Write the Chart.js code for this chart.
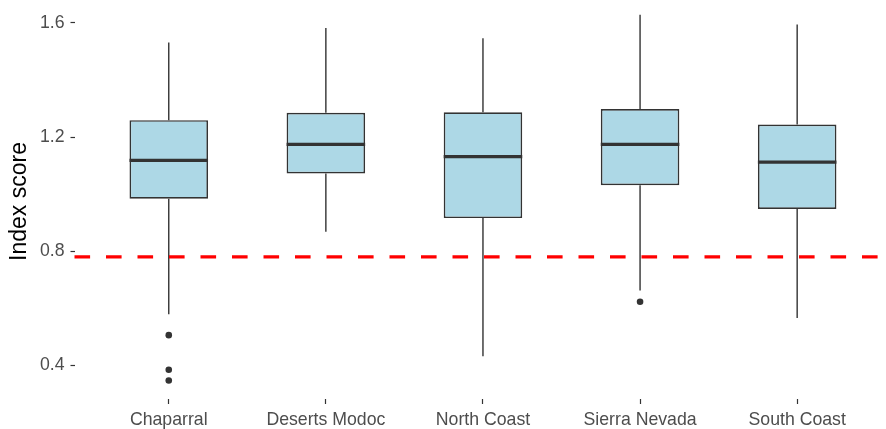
<!DOCTYPE html>
<html>
<head>
<meta charset="utf-8">
<script src="https://cdn.jsdelivr.net/npm/chart.js@4/dist/chart.umd.min.js"></script>
<style>
  html, body { margin: 0; padding: 0; background: #ffffff; overflow: hidden; }
  #wrap { width: 886px; height: 429px; position: relative; }
</style>
</head>
<body>
<div id="wrap"><canvas id="c"></canvas></div>
<script>
const categories = ['Chaparral', 'Deserts Modoc', 'North Coast', 'Sierra Nevada', 'South Coast'];
const whiskerLow  = [0.579, 0.868, 0.432, 0.662, 0.566];
const q1          = [0.984, 1.072, 0.916, 1.031, 0.948];
const median      = [1.118, 1.174, 1.131, 1.174, 1.112];
const q3          = [1.259, 1.285, 1.287, 1.298, 1.244];
const whiskerHigh = [1.531, 1.582, 1.546, 1.628, 1.594];
const outlierCategory = ['Chaparral', 'Chaparral', 'Chaparral', 'Sierra Nevada'];
const outlierValue    = [0.506, 0.385, 0.347, 0.623];
const threshold = 0.78;
const yTicks = [0.4, 0.8, 1.2, 1.6];

const DARK = '#333333';
const TXT = '#4D4D4D';
const FONT = "'Liberation Sans', Arial, sans-serif";

const boxData = categories.map((c, i) => ({ x: i + 1, y: [q1[i], q3[i]] }));
const outlierData = outlierValue.map((v, i) => ({ x: categories.indexOf(outlierCategory[i]) + 1, y: v }));

const boxPlugin = {
  id: 'boxExtras',
  beforeDatasetsDraw(chart) {
    const { ctx, scales: { x, y } } = chart;
    ctx.save();
    ctx.strokeStyle = DARK;
    ctx.lineWidth = 1.4;
    categories.forEach((c, i) => {
      const px = x.getPixelForValue(i + 1);
      ctx.beginPath();
      ctx.moveTo(px, y.getPixelForValue(whiskerHigh[i]));
      ctx.lineTo(px, y.getPixelForValue(q3[i]));
      ctx.moveTo(px, y.getPixelForValue(q1[i]));
      ctx.lineTo(px, y.getPixelForValue(whiskerLow[i]));
      ctx.stroke();
    });
    ctx.restore();
  },
  afterDatasetsDraw(chart) {
    const { ctx, chartArea, scales: { x, y } } = chart;
    const meta = chart.getDatasetMeta(0);
    ctx.save();
    ctx.strokeStyle = DARK;
    ctx.lineWidth = 3.3;
    categories.forEach((c, i) => {
      const bar = meta.data[i];
      const half = bar.width / 2;
      const px = x.getPixelForValue(i + 1);
      const py = y.getPixelForValue(median[i]);
      ctx.beginPath();
      ctx.moveTo(px - half, py);
      ctx.lineTo(px + half, py);
      ctx.stroke();
    });
    // threshold line
    ctx.strokeStyle = '#FF0000';
    ctx.lineWidth = 3.2;
    ctx.setLineDash([15.6, 15.9]);
    const ty = y.getPixelForValue(threshold);
    ctx.beginPath();
    ctx.moveTo(chartArea.left, ty);
    ctx.lineTo(chartArea.right, ty);
    ctx.stroke();
    ctx.restore();
  }
};

new Chart(document.getElementById('c'), {
  type: 'bar',
  data: {
    datasets: [
      {
        type: 'bar',
        data: boxData,
        backgroundColor: '#ADD8E6',
        borderColor: DARK,
        borderWidth: 1.7,
        borderSkipped: false,
        barPercentage: 0.5,
        categoryPercentage: 1.0,
        order: 2
      },
      {
        type: 'scatter',
        data: outlierData,
        backgroundColor: DARK,
        borderColor: DARK,
        pointRadius: 3.3,
        borderWidth: 0,
        order: 1
      }
    ]
  },
  options: {
    responsive: true,
    maintainAspectRatio: false,
    animation: false,
    layout: { padding: { left: 0, right: 0, top: 0, bottom: 0 } },
    plugins: { legend: { display: false }, tooltip: { enabled: false } },
    scales: {
      x: {
        type: 'linear',
        offset: false,
        min: 0.4,
        max: 5.54,
        grid: { display: true, offset: false, drawOnChartArea: false, tickLength: 5, tickColor: DARK, tickWidth: 1.2 },
        border: { display: false },
        ticks: {
          color: TXT,
          font: { family: FONT, size: 17.7 },
          padding: 5,
          maxRotation: 0,
          autoSkip: false,
          callback: (v) => categories[Math.round(v) - 1] || ''
        },
        afterBuildTicks: (s) => { s.ticks = categories.map((c, i) => ({ value: i + 1 })); },
        afterFit: (s) => { s.height = 30; s.paddingLeft = 0; s.paddingRight = 0; }
      },
      y: {
        type: 'linear',
        min: 0.2824,
        max: 1.6659,
        grid: { display: true, drawOnChartArea: false, tickLength: 4, tickColor: DARK, tickWidth: 1.2 },
        border: { display: false },
        ticks: {
          color: TXT,
          font: { family: FONT, size: 17.7 },
          padding: 6,
          callback: (v) => Number(v).toFixed(1)
        },
        title: {
          display: true,
          text: 'Index score',
          color: '#000000',
          font: { family: FONT, size: 23 },
          padding: { top: 6, bottom: 0 }
        },
        afterBuildTicks: (s) => { s.ticks = yTicks.map(v => ({ value: v })); },
        afterFit: (s) => { s.width = 74.5; s.paddingTop = 0; s.paddingBottom = 0; }
      }
    }
  },
  plugins: [boxPlugin]
});
</script>
</body>
</html>
